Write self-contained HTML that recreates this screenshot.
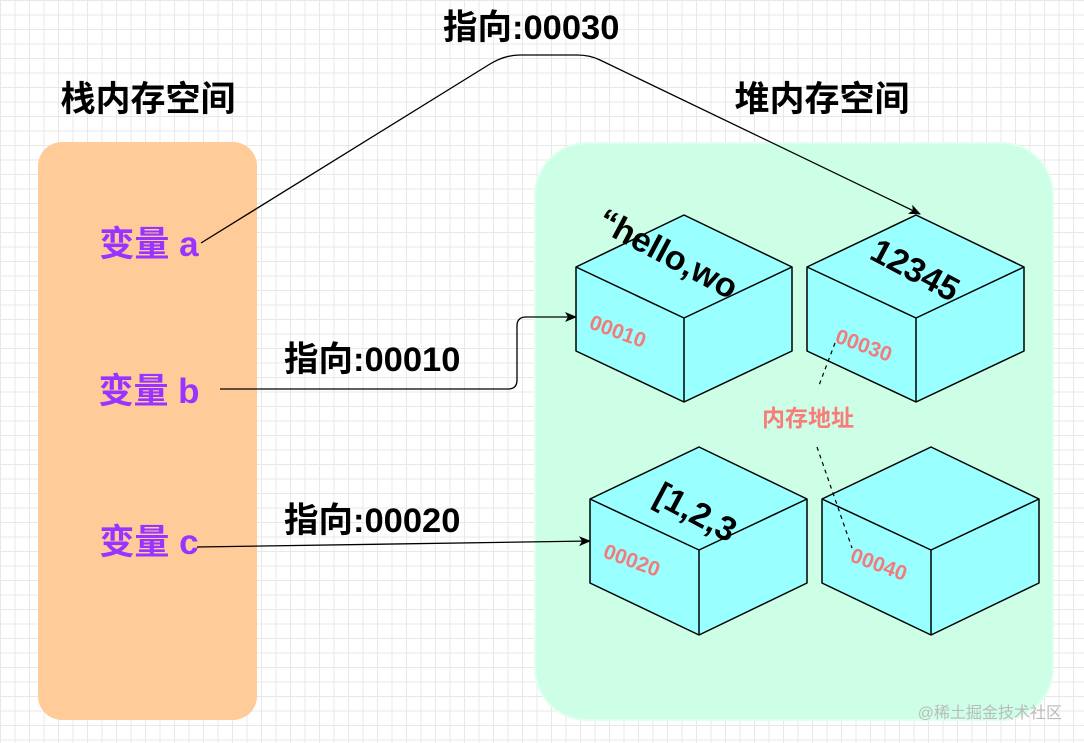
<!DOCTYPE html>
<html><head><meta charset="utf-8"><style>
html,body{margin:0;padding:0}
body{width:1084px;height:743px;overflow:hidden;position:relative;background-color:#fff;
background-image:linear-gradient(#e8e8e8 1px,transparent 1px),linear-gradient(90deg,#e8e8e8 1px,transparent 1px);
background-size:14.5px 14.5px;font-family:"Liberation Sans","Noto Sans CJK SC",sans-serif}
</style></head><body>
<svg width="1084" height="743" style="position:absolute;left:0;top:0" font-family="Liberation Sans, Noto Sans CJK SC, sans-serif">
<defs><marker id="ar" markerWidth="12" markerHeight="10" refX="11" refY="5" orient="auto" markerUnits="userSpaceOnUse"><path d="M0,0 L12,5 L0,10 L3,5 Z" fill="#000"/></marker></defs>
<rect x="38" y="142" width="219" height="578" rx="24" fill="#ffcc99"/>
<rect x="535" y="143" width="518" height="577" rx="52" fill="#ccffe6" stroke="#e0fff0" stroke-width="2"/>
<text x="148" y="111" font-size="35" font-weight="bold" text-anchor="middle">栈内存空间</text>
<text x="822" y="111" font-size="35" font-weight="bold" text-anchor="middle">堆内存空间</text>
<g font-size="35" font-weight="bold" fill="#9933ff" text-anchor="middle">
<text x="149" y="256">变量 a</text><text x="149" y="403">变量 b</text><text x="149" y="554">变量 c</text></g>
<g font-size="34.5" font-weight="bold">
<text x="443" y="39">指向:00030</text><text x="284" y="371">指向:00010</text><text x="284" y="532">指向:00020</text></g>
<path d="M201,243 L490,64 Q505,55 520,55 L577,55 Q590,55 600,60 L920,214" fill="none" stroke="#000" stroke-width="1.3" marker-end="url(#ar)"/>
<path d="M220,389 L508,389 Q517,389 517,380 L517,326 Q517,317 526,317 L576,317" fill="none" stroke="#000" stroke-width="1.3" marker-end="url(#ar)"/>
<path d="M197,547 L590,541" fill="none" stroke="#000" stroke-width="1.3" marker-end="url(#ar)"/>
<g stroke="#000" stroke-width="1.5" fill="#99ffff" stroke-linejoin="round">
<path d="M684,215 L792,267 L792,351 L684,402 L576,351 L576,267 Z"/><path d="M576,267 L684,318 L792,267 M684,318 L684,402" fill="none"/>
<path d="M916,215 L1024,267 L1024,351 L916,402 L807,351 L807,267 Z"/><path d="M807,267 L916,318 L1024,267 M916,318 L916,402" fill="none"/>
<path d="M699,447 L807,499 L807,583 L699,635 L590,583 L590,499 Z"/><path d="M590,499 L699,550 L807,499 M699,550 L699,635" fill="none"/>
<path d="M931,447 L1039,499 L1039,583 L931,635 L822,583 L822,499 Z"/><path d="M822,499 L931,550 L1039,499 M931,550 L931,635" fill="none"/>
</g>
<g font-size="34" font-weight="bold">
<text transform="translate(595,228) rotate(28)">“hello,wo</text>
<text transform="translate(868,258) rotate(28)">12345</text>
<text transform="translate(652,502) rotate(28)">[1,2,3</text></g>
<g font-size="21" fill="#ff6666" font-weight="bold" fill-opacity="0.85">
<text transform="translate(588,328) rotate(20)">00010</text>
<text transform="translate(834,342) rotate(20)">00030</text>
<text transform="translate(602,557) rotate(20)">00020</text>
<text transform="translate(849,561) rotate(20)">00040</text>
<text x="808" y="426" text-anchor="middle" font-size="23">内存地址</text></g>
<g stroke="#000" stroke-width="1.2" stroke-dasharray="4,4" fill="none">
<path d="M835,343 L818,388"/><path d="M817,447 L852,548"/></g>
<text x="1062" y="718" font-size="16" fill="#bbb" text-anchor="end">@稀土掘金技术社区</text>
</svg>
</body></html>
